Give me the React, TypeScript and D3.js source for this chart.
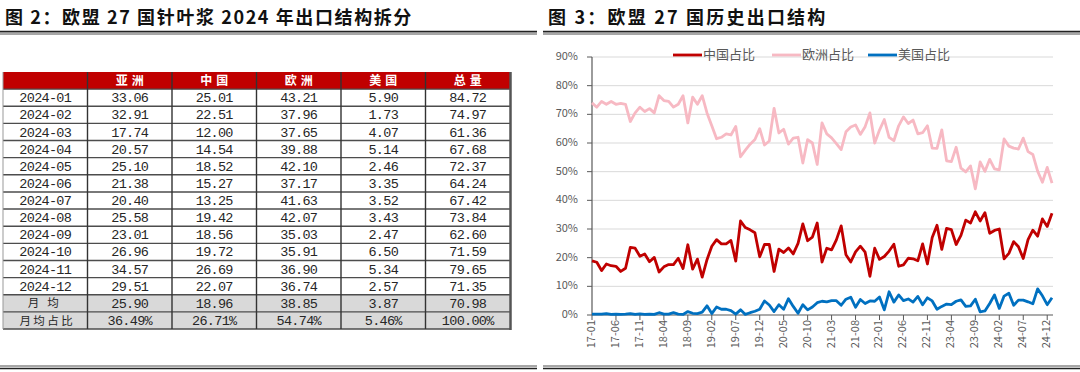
import * as d3 from "d3";

// table (2024, 万吨)
const months = ["2024-01", "2024-02", "2024-03", "2024-04", "2024-05", "2024-06", "2024-07", "2024-08", "2024-09", "2024-10", "2024-11", "2024-12"];
const asia = [33.06, 32.91, 17.74, 20.57, 25.1, 21.38, 20.4, 25.58, 23.01, 26.96, 34.57, 29.51];
const china = [25.01, 22.51, 12.0, 14.54, 18.52, 15.27, 13.25, 19.42, 18.56, 19.72, 26.69, 22.07];
const europe = [43.21, 37.96, 37.65, 39.88, 42.1, 37.17, 41.63, 42.07, 35.03, 35.91, 36.9, 36.74];
const usa = [5.9, 1.73, 4.07, 5.14, 2.46, 3.35, 3.52, 3.43, 2.47, 6.5, 5.34, 2.57];
const total = [84.72, 74.97, 61.36, 67.68, 72.37, 64.24, 67.42, 73.84, 62.6, 71.59, 79.65, 71.35];
const headers = ["", "亚洲", "中国", "欧洲", "美国", "总量"];
const avgRow = ["月均", "25.90", "18.96", "38.85", "3.87", "70.98"];
const shareRow = ["月均占比", "36.49%", "26.71%", "54.74%", "5.46%", "100.00%"];

// chart: shares, 17-01 .. 25-01 (%)
const chinaShare = [
  18.9, 18.4, 15.5, 17.8, 17.2, 17, 15.2, 16.3, 23.6, 23.3,
  20.5, 21.3, 18.6, 20.1, 15, 16.8, 17.6, 17.6, 19.8, 16.2,
  24.5, 16, 19.5, 13.2, 19.3, 24, 26.3, 24.8, 24.8, 26,
  18.8, 32.8, 30.5, 29.7, 28.7, 20.3, 24.6, 24.6, 15.2, 23,
  21.8, 23.4, 21.3, 25, 31.8, 25.9, 27.2, 32.1, 18.5, 23.3,
  22.7, 26.2, 31.1, 21, 18.5, 22, 24, 21.9, 13.5, 23.3,
  19.4, 20.4, 22.3, 24.7, 17, 17.5, 19.8, 19.6, 18.9, 24.8,
  17.8, 27, 31.3, 22.9, 30.2, 29.8, 24.6, 27.8, 33.1, 32.1,
  36, 32.8, 35.7, 28.5, 29.5, 30.0, 19.6, 21.5, 25.6, 23.8,
  19.7, 26.3, 29.6, 27.5, 33.5, 30.9, 35.5,
];
const europeShare = [
  74, 72.5, 74.5, 73.5, 74.5, 73.5, 73.8, 73.5, 67.5, 70.5,
  72.5, 71, 72, 70.5, 76.5, 74.8, 74.5, 72.5, 73.5, 76.5,
  67, 76, 73.5, 76.5, 70.5, 66, 61.5, 62, 63.2, 62.8,
  65.8, 55.2, 57.5, 59.6, 61.2, 65, 59.3, 60.7, 72.1, 63.5,
  64.8, 59.6, 61.7, 62, 53, 61.2, 60, 52.5, 67, 63.2,
  61.8, 59.8, 57.7, 63.9, 65.6, 66.3, 63, 65.7, 70.5, 60,
  64.5, 68.2, 62, 60.8, 66, 69.1, 66.8, 68, 63.2, 63.6,
  66, 58.2, 58.1, 64.6, 53.8, 53.5, 58.5, 51.2, 49.9, 52,
  44, 53.4, 50.1, 54.3, 51.0, 50.6, 61.4, 58.9, 58.2, 57.9,
  61.7, 57.0, 56.0, 50.2, 46.3, 51.5, 46.0,
];
const usaShare = [
  0.3, 0.3, 0.3, 0.5, 0.2, 0.3, 0.2, 0.3, 0.5, 0.2,
  0.4, 0.2, 0.3, 0.2, 0.8, 0.3, 0.3, 0.8, 0.3, 0.2,
  1.2, 0.6, 0.5, 1, 3.2, 0.5, 2.8, 2, 2, 1.5,
  0.3, 1.8, 0.2, 0.8, 1.3, 2, 4.9, 3.5, 1.2, 3.6,
  2, 5.7, 3, 0.6, 3.6, 1.8, 2.8, 4.3, 4.8, 4.6,
  5, 5, 3.4, 5.5, 6.2, 2.7, 5.4, 4, 4.9, 4.8,
  6.3, 1.8, 8.1, 4.5, 7, 5, 5.6, 4.5, 6.5, 3.6,
  6, 4.9, 2, 3, 3.8, 3.6, 4.8, 5.3, 3, 3.2,
  5.5, 1.1, 1.4, 4, 7.0, 2.3, 6.6, 7.6, 3.4, 5.2,
  5.2, 4.6, 3.9, 9.1, 6.7, 3.6, 6.0,
];
const tickLabels = ["17-01", "17-06", "17-11", "18-04", "18-09", "19-02", "19-07", "19-12", "20-05", "20-10", "21-03", "21-08", "22-01", "22-06", "22-11", "23-04", "23-09", "24-02", "24-07", "24-12"];

const categories = d3.timeMonth
  .range(new Date(2017, 0, 1), new Date(2025, 1, 1))
  .map(d3.timeFormat("%y-%m"));

const series = [
  { name: "中国占比", values: chinaShare, color: "#C00000" },
  { name: "欧洲占比", values: europeShare, color: "#F7B9C3" },
  { name: "美国占比", values: usaShare, color: "#0070C0" },
];

const CJK = "'Noto Sans CJK SC', 'Noto Sans', sans-serif";
const MONO = "'Liberation Mono', 'DejaVu Sans Mono', monospace";

function Title({ x, text, spacing }: { x: number; text: string; spacing: number }) {
  return (
    <text x={x} y={24} fontFamily={CJK} fontWeight={700} fontSize={18} letterSpacing={spacing} fill="#111">
      {text}
    </text>
  );
}

function Rules({ x0, x1 }: { x0: number; x1: number }) {
  return (
    <g stroke="#222">
      <line x1={x0} x2={x1} y1={31.6} y2={31.6} strokeWidth={1.6} />
      <line x1={x0} x2={x1} y1={34} y2={34} strokeWidth={0.8} />
      <line x1={x0} x2={x1} y1={366} y2={366} strokeWidth={0.8} />
      <line x1={x0} x2={x1} y1={368.5} y2={368.5} strokeWidth={1.6} />
    </g>
  );
}

function Table() {
  const rows: string[][] = [
    ...months.map((m, i) => [m, asia[i], china[i], europe[i], usa[i], total[i]].map((v) => (typeof v === "number" ? v.toFixed(2) : v))),
    avgRow,
    shareRow,
  ];
  const col = d3.scaleBand<number>().domain(d3.range(6)).range([3, 510]);
  const row = d3.scaleBand<number>().domain(d3.range(rows.length + 1)).range([72, 329]);
  const bw = col.bandwidth();
  const bh = row.bandwidth();
  return (
    <g>
      {/* header */}
      <rect x={3} y={row(0)} width={507} height={bh} fill="#C00000" />
      {headers.map((h, j) => (
        <text key={j} x={col(j)! + bw / 2 + 2} y={row(0)! + bh / 2 + 1} textAnchor="middle" dominantBaseline="middle"
          fontFamily={CJK} fontWeight={700} fontSize={12} letterSpacing={4} fill="#fff">
          {h}
        </text>
      ))}
      {/* summary fill */}
      <rect x={3} y={row(13)} width={507} height={bh * 2} fill="#D9D9D9" />
      {rows.map((r, i) => (
        <g key={i}>
          {r.map((c, j) => {
            const label = j === 0 && i >= 12;
            return (
              <text key={j} x={col(j)! + bw / 2 + (label ? 2 : 0)} y={row(i + 1)! + bh / 2 + 1}
                textAnchor="middle" dominantBaseline="middle"
                fontFamily={label ? CJK : MONO} fontSize={label ? 11.5 : 13.5}
                letterSpacing={label ? (i === 12 ? 8 : 2.4) : -0.7} fill="#262626">
                {c}
              </text>
            );
          })}
        </g>
      ))}
      {/* horizontal rules */}
      {d3.range(1, rows.length + 1).map((i) => (
        <line key={i} x1={3} x2={510} y1={row(i)} y2={row(i)} stroke="#4d4d4d" strokeWidth={1.4} />
      ))}
      <line x1={3} x2={510} y1={329} y2={329} stroke="#4d4d4d" strokeWidth={1.4} />
      {/* vertical rules */}
      {d3.range(1, 6).map((j) => (
        <line key={j} x1={col(j)} x2={col(j)} y1={72} y2={329} stroke="#333" strokeWidth={1.4} />
      ))}
      <line x1={3} x2={3} y1={72} y2={329} stroke="#999" strokeWidth={1} />
      <line x1={510.5} x2={510.5} y1={72} y2={330} stroke="#555" strokeWidth={2.5} />
    </g>
  );
}

function Chart() {
  const x = d3.scalePoint<string>().domain(categories).range([592, 1052]);
  const y = d3.scaleLinear().domain([0, 90]).range([315, 57]);
  const yTicks = d3.range(0, 91, 10);
  const line = d3.line<number>().x((_, i) => x(categories[i])!).y((d) => y(d));
  const legendX = [673, 772, 868];
  return (
    <g fontFamily={CJK}>
      {yTicks.map((t) => (
        <g key={t}>
          {t > 0 && <line x1={592} x2={1053} y1={y(t)} y2={y(t)} stroke="#D9D9D9" strokeWidth={1} />}
          <line x1={587} x2={592} y1={y(t)} y2={y(t)} stroke="#595959" />
          <text x={578} y={y(t)} textAnchor="end" dominantBaseline="middle" fontSize={11} fill="#595959">
            {t}%
          </text>
        </g>
      ))}
      <line x1={592} x2={592} y1={57} y2={315} stroke="#595959" strokeWidth={1.2} />
      <line x1={592} x2={1053} y1={315} y2={315} stroke="#595959" strokeWidth={1.2} />
      {tickLabels.map((l) => (
        <g key={l} transform={`translate(${x(l)},315)`}>
          <line y1={0} y2={5} stroke="#595959" />
          <text transform="rotate(-90)" x={-5} y={0} textAnchor="end" dominantBaseline="middle" fontSize={11} fill="#595959">
            {l}
          </text>
        </g>
      ))}
      {series.map((s) => (
        <path key={s.name} d={line(s.values)!} fill="none" stroke={s.color} strokeWidth={2.8} strokeLinejoin="round" />
      ))}
      {series.map((s, i) => (
        <g key={s.name} transform={`translate(${legendX[i]},55)`}>
          <line x1={0} x2={29} y1={0} y2={0} stroke={s.color} strokeWidth={2.8} />
          <text x={30} y={0} dominantBaseline="middle" fontSize={13} fill="#595959">
            {s.name}
          </text>
        </g>
      ))}
    </g>
  );
}

export default function App() {
  return (
    <svg width={1080} height={372} style={{ position: "absolute", left: 0, top: 0, background: "#fff" }}>
      <rect width={1080} height={372} fill="#fff" />
      <Title x={5} text="图 2：欧盟 27 国针叶浆 2024 年出口结构拆分" spacing={1.6} />
      <Title x={548} text="图 3：欧盟 27 国历史出口结构" spacing={2.2} />
      <Rules x0={0} x1={537} />
      <Rules x0={543} x1={1080} />
      <Table />
      <Chart />
    </svg>
  );
}
